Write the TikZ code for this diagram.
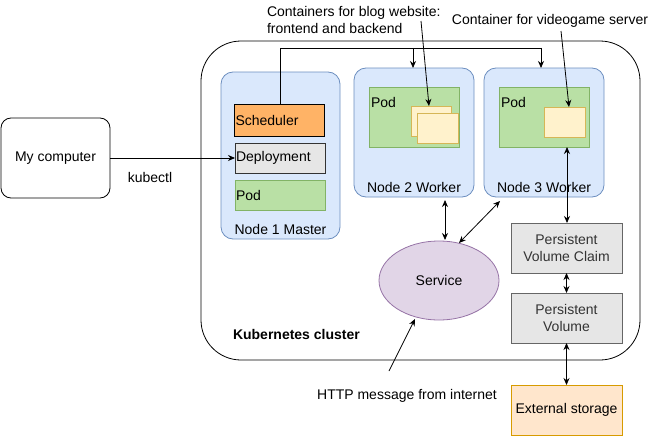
\documentclass[tikz,border=0pt]{standalone}
\usepackage{fontspec}
\setmainfont{Liberation Sans}
\usetikzlibrary{arrows.meta,shapes.geometric}
\definecolor{nodefill}{HTML}{DAE8FC}
\definecolor{nodedraw}{HTML}{6C8EBF}
\definecolor{podfill}{HTML}{B9E0A5}
\definecolor{poddraw}{HTML}{82B366}
\definecolor{schedfill}{HTML}{FFB366}
\definecolor{grayfill}{HTML}{E6E6E6}
\definecolor{graydraw}{HTML}{666666}
\definecolor{graytext}{HTML}{333333}
\definecolor{contfill}{HTML}{FFF2CC}
\definecolor{contdraw}{HTML}{D6B656}
\definecolor{svcfill}{HTML}{E1D5E7}
\definecolor{svcdraw}{HTML}{9673A6}
\definecolor{extfill}{HTML}{FFE6CC}
\definecolor{extdraw}{HTML}{D79B00}
\tikzset{
  every node/.style={font=\fontsize{14}{16.5}\selectfont, inner sep=0pt, outer sep=0pt},
  workerbox/.style={draw=nodedraw, fill=nodefill, rounded corners=12pt, line width=0.8pt},
  podbox/.style={draw=poddraw, fill=podfill, line width=0.8pt},
  contbox/.style={draw=contdraw, fill=contfill, line width=0.8pt},
  graybox/.style={draw=graydraw, fill=grayfill, line width=0.8pt, text=graytext, align=center},
  arr/.style={-{Stealth[length=7pt,width=6pt]}, line width=0.8pt},
  darr/.style={{Stealth[length=7pt,width=6pt]}-{Stealth[length=7pt,width=6pt]}, line width=0.8pt},
}
\begin{document}
\begin{tikzpicture}[x=1pt,y=-1pt]
\useasboundingbox (0,0) rectangle (655,436);
% cluster
\draw[line width=0.8pt, rounded corners=40pt] (201,41) rectangle (640,360);
\node[font=\bfseries\fontsize{14}{16.5}\selectfont, anchor=west] (clusterlbl) at (233,334) {Kubernetes cluster};
% my computer
\node[draw, line width=0.8pt, rounded corners=10pt, minimum width=109pt, minimum height=80pt] (pc) at (55.5,158) {My computer};
% node 1
\draw[workerbox] (221,72) rectangle (340,239);
\node (n1lbl) at (280.5,229) {Node 1 Master};
\node[draw, fill=schedfill, line width=0.8pt, minimum width=90pt, minimum height=32pt, anchor=north west, text width=88pt, align=left, inner xsep=1pt] (sched) at (234.5,104) {Scheduler};
\node[draw=black!80, fill=grayfill, line width=0.8pt, minimum width=90pt, minimum height=30pt, anchor=north west, text width=88pt, align=left, inner xsep=1pt] (deploy) at (235,143) {Deployment};
\node[podbox, minimum width=90pt, minimum height=30pt, anchor=north west, text width=88pt, align=left, inner xsep=1pt] (pod1) at (235,180) {Pod};
% node 2
\node[workerbox, minimum width=120pt, minimum height=129pt, anchor=north west] (n2) at (354,68) {};
\node (n2lbl) at (414,187) {Node 2 Worker};
\node[podbox, minimum width=90pt, minimum height=60pt, anchor=north west] (pod2) at (369,87) {};
\node[anchor=west] (pod2lbl) at (371,102) {Pod};
\node[contbox, minimum width=40pt, minimum height=30pt, anchor=north west] (c2a) at (411,106) {};
\node[contbox, minimum width=41pt, minimum height=30pt, anchor=north west] (c2b) at (417,113) {};
% node 3
\node[workerbox, minimum width=120pt, minimum height=129pt, anchor=north west] (n3) at (484,68) {};
\node (n3lbl) at (544,187) {Node 3 Worker};
\node[podbox, minimum width=90pt, minimum height=60pt, anchor=north west] (pod3) at (499,87) {};
\node[anchor=west] (pod3lbl) at (501,102) {Pod};
\node[contbox, minimum width=41pt, minimum height=30pt, anchor=north west] (c3) at (544,107) {};
% service
\node[ellipse, draw=svcdraw, fill=svcfill, line width=0.8pt, minimum width=120pt, minimum height=79pt] (svc) at (439,280.5) {Service};
% storage
\node[graybox, minimum width=111pt, minimum height=50pt, anchor=north west] (pvc) at (511,223) {};
\node[text=graytext, align=center] (pvclbl) at (566.5,248) {Persistent\\Volume Claim};
\node[graybox, minimum width=111pt, minimum height=50pt, anchor=north west] (pv) at (511,293) {};
\node[text=graytext, align=center] (pvlbl) at (566.5,318) {Persistent\\Volume};
\node[draw=extdraw, fill=extfill, line width=0.8pt, minimum width=111pt, minimum height=50pt, anchor=north west] (ext) at (511,385) {};
\node (extlbl) at (566.5,410) {External storage};
% annotations
\node[anchor=west, align=left] (blogtxt) at (267,20) {Containers for blog website:\\frontend and backend};
\node (gametxt) at (550,21) {Container for videogame server};
\node (httptxt) at (407,396) {HTTP message from internet};
\node (kubectl) at (150,177) {kubectl};
% connectors
\draw[arr] (pc.east) -- (deploy.west);
\coordinate (schedtop) at (280,104);
\coordinate (bend1) at (280,48);
\coordinate (bend2) at (413,48);
\coordinate (bend3) at (541,48);
\draw[line width=0.8pt] (schedtop) -- (bend1) -- (bend3);
\draw[arr] (bend2) -- (bend2 |- n2.north);
\draw[arr] (bend3) -- (bend3 |- n3.north);
\coordinate (blogfrom) at (421,21);
\coordinate (blogto) at (429,106);
\draw[arr] (blogfrom) -- (blogto);
\coordinate (gamefrom) at (561,31);
\coordinate (gameto) at (569,107);
\draw[arr] (gamefrom) -- (gameto);
\draw[darr] (567,147) -- (567,223);
\draw[darr] (445,200) -- (445,240);
\draw[darr] (500,201) -- (459,243);
\draw[darr] (pvc.south) -- (pv.north);
\draw[darr] (pv.south) -- (ext.north);
\coordinate (httpfrom) at (389,371);
\draw[arr] (httpfrom) -- (415,319);
\end{tikzpicture}
\end{document}
